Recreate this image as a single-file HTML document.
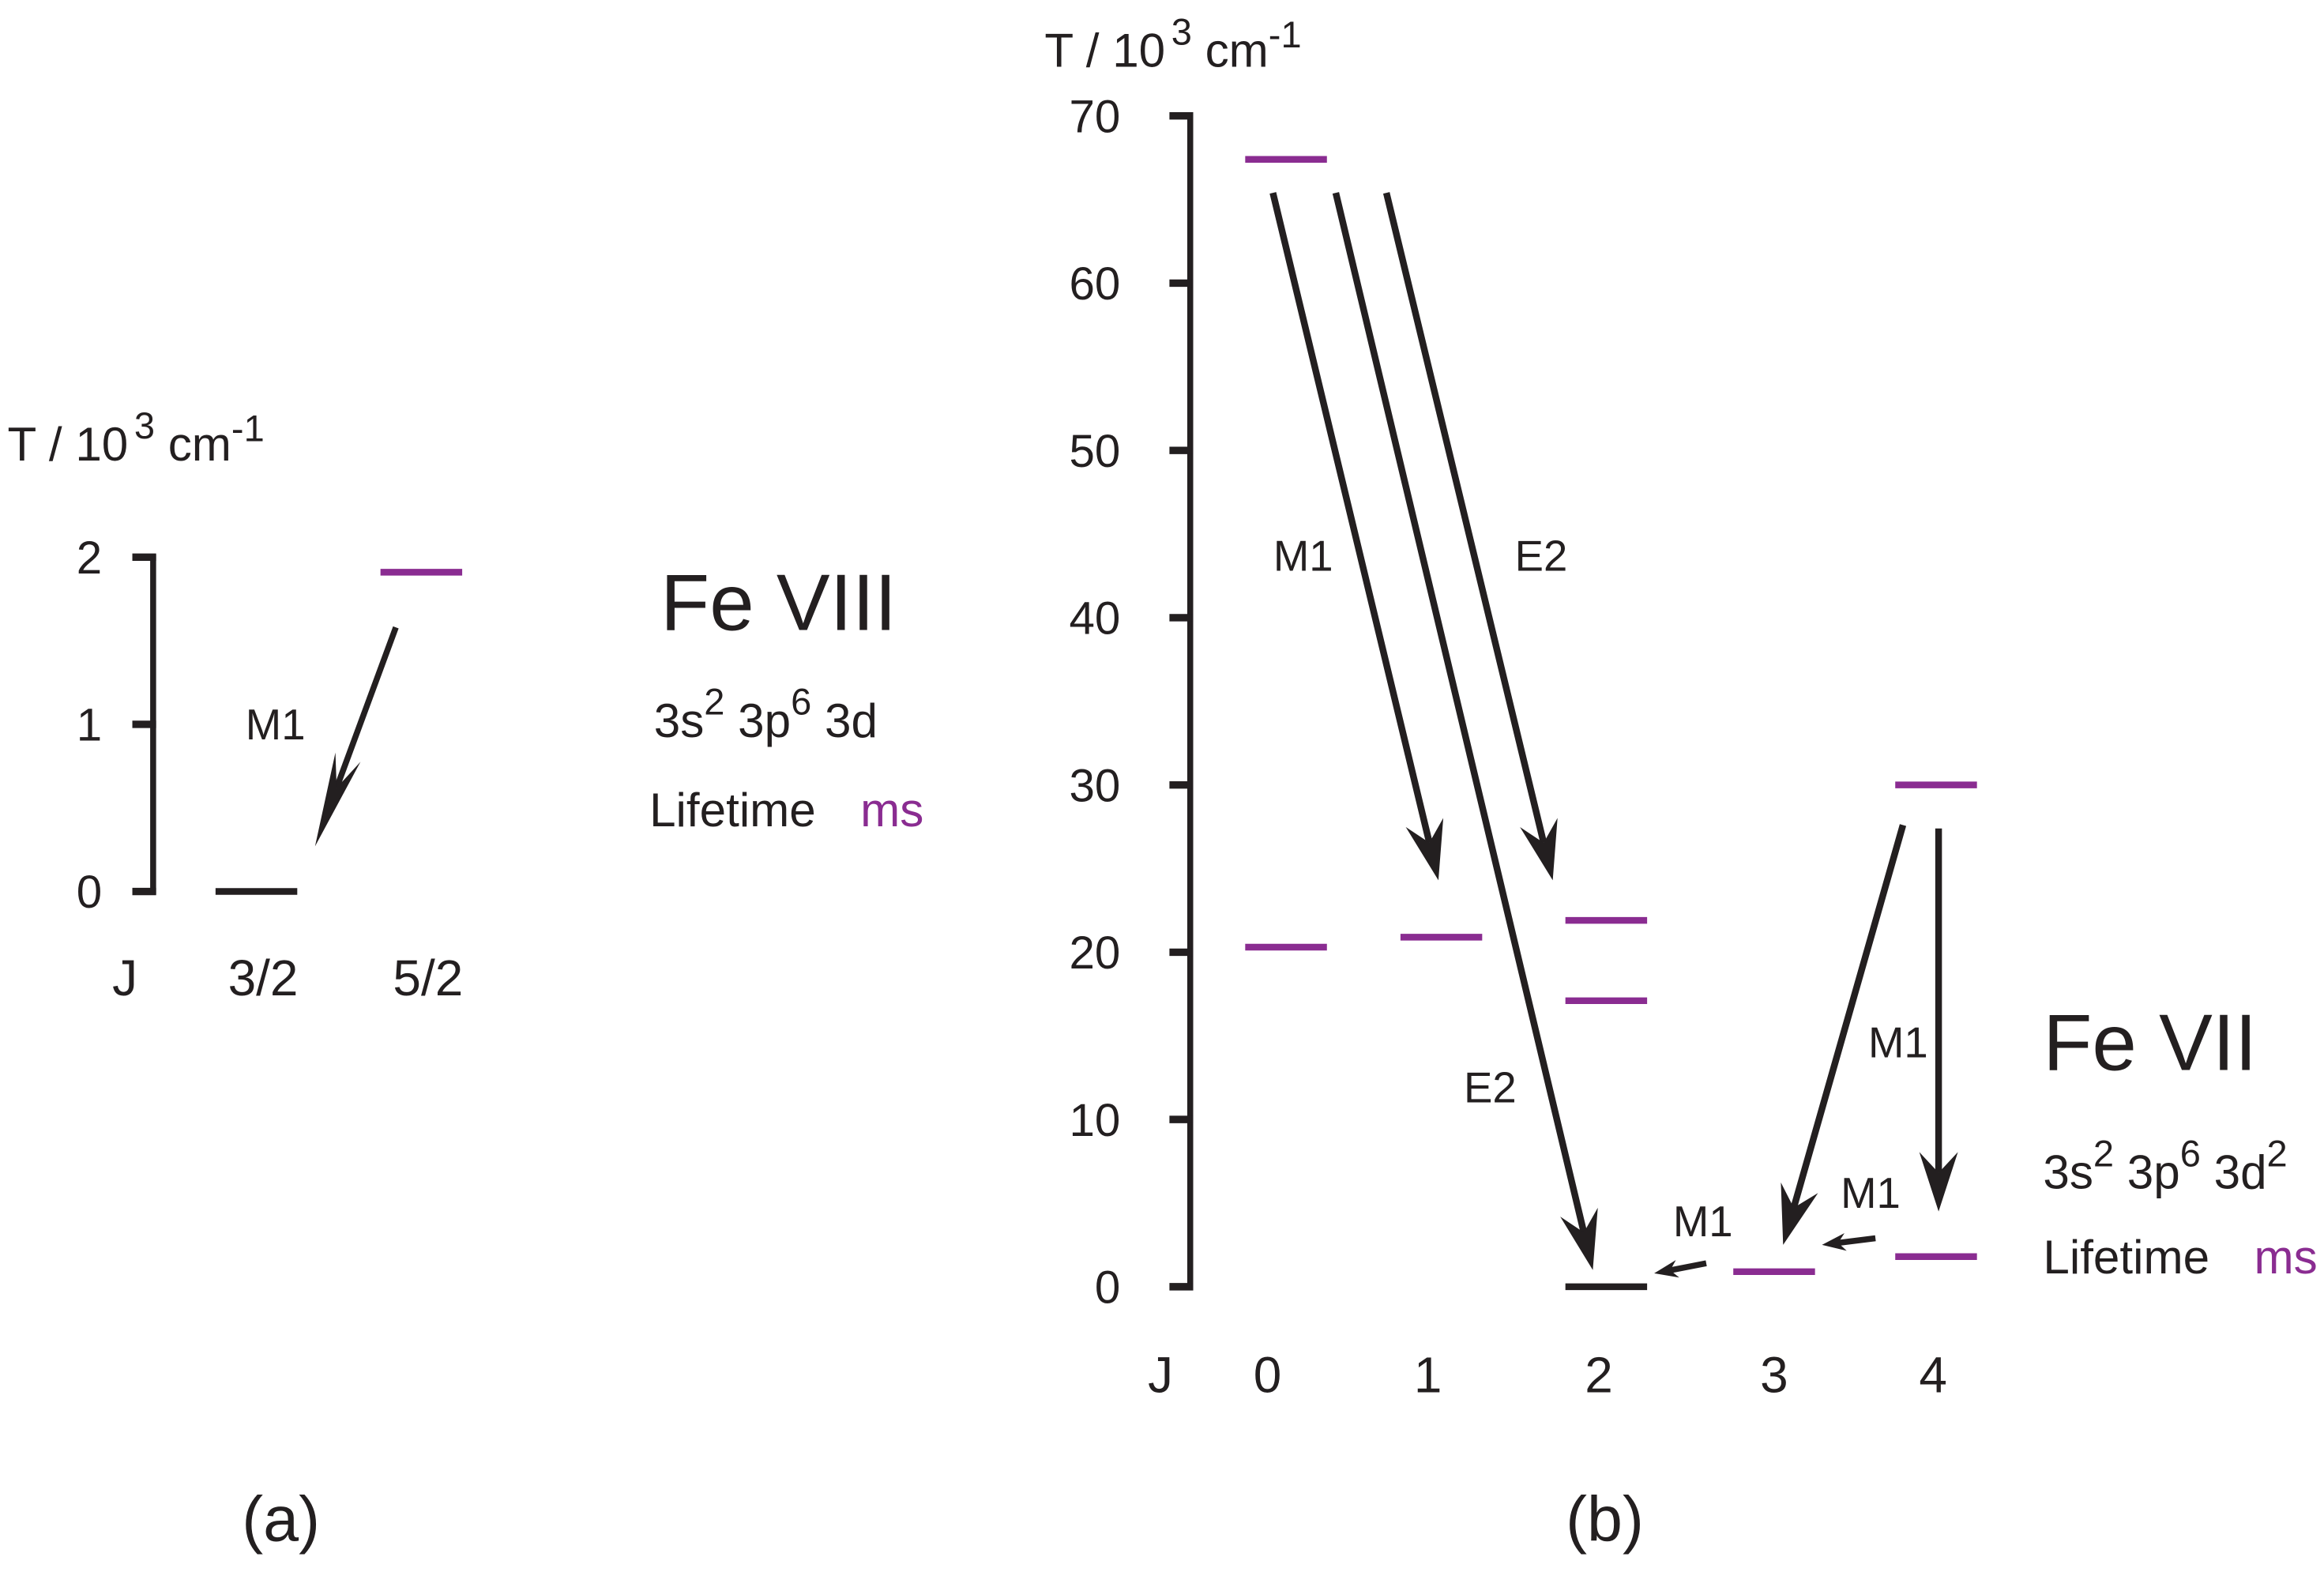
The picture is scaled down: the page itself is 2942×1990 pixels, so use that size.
<!DOCTYPE html>
<html><head><meta charset="utf-8"><style>
html,body{margin:0;padding:0;background:#fff}
svg{display:block}
text{font-family:"Liberation Sans",sans-serif}
</style></head><body>
<svg id="chart" width="2942" height="1990" viewBox="0 0 1564 1058" xmlns="http://www.w3.org/2000/svg">
<g id="pa"></g>
<g id="pb"></g>
</svg>
<script>
// Panel A data (Fe VIII)
const aTicks = [0, 1, 2];
const aJLabels = ["3/2", "5/2"];
const aLevels = [[0, 0, "black"], [1, 1.91, "purple"]]; // [J index, energy, colour]
const aArrows = [[0.85, 1.58, 0.36, 0.27]]; // [j1, e1, j2, e2]
const aArrowLabels = [["M1", 0.12, 1.0]];
// Panel B data (Fe VII)
const bTicks = [0, 10, 20, 30, 40, 50, 60, 70];
const bJLabels = ["0", "1", "2", "3", "4"];
const bLevels = [[0, 67.4, "purple"], [0, 20.3, "purple"], [1, 20.9, "purple"], [2, 21.9, "purple"], [2, 17.1, "purple"], [2, 0, "black"], [3, 0.9, "purple"], [4, 30.0, "purple"], [4, 1.8, "purple"]];
const bArrows = [[-0.08, 65.4, 0.986, 24.3], [0.325, 65.4, 1.923, 1.0], [0.651, 65.4, 1.68, 24.3], [3.80, 27.6, 3.06, 2.5], [4.02, 27.4, 4.02, 4.5], [2.60, 1.4, 2.29, 0.8], [3.63, 2.9, 3.30, 2.5]];
const bArrowLabels = [["M1", 0.115, 43.7], ["E2", 1.61, 43.7], ["E2", 1.30, 11.9], ["M1", 3.77, 14.6], ["M1", 3.60, 5.6], ["M1", 2.58, 3.9]];

const NS = "http://www.w3.org/2000/svg";
const PURPLE = "#8a2c91", BLACK = "#231f20";
function mk(parent, tag, attrs, txt) {
  const e = document.createElementNS(NS, tag);
  for (const k in attrs) e.setAttribute(k, attrs[k]);
  if (txt !== undefined) e.textContent = txt;
  parent.appendChild(e);
  return e;
}
function arrow(g, x1, y1, x2, y2, head) {
  const dx = x2 - x1, dy = y2 - y1, L = Math.hypot(dx, dy), ux = dx / L, uy = dy / L, px = -uy, py = ux;
  const hl = head[0], hw = head[1], nl = head[2];
  const l = mk(g, "line", {x1: x1, y1: y1, x2: x2 - ux * nl, y2: y2 - uy * nl, stroke: BLACK, "stroke-width": head[3]});
  
  
  const bx = x2 - ux * hl, by = y2 - uy * hl;
  const p = mk(g, "polygon", {points: [x2, y2, bx + px * hw, by + py * hw, x2 - ux * nl, y2 - uy * nl, bx - px * hw, by - py * hw].join(","), fill: BLACK});
  
  
}
function supText(g, x, y, size, parts) {
  const t = mk(g, "text", {x: x, y: y, "font-size": size, fill: BLACK});
  parts.forEach(pt => {
    const s = mk(t, "tspan", {}, pt[0]);
    if (pt[1]) s.setAttribute("dy", pt[1]);
    if (pt[2]) s.setAttribute("font-size", pt[2]);
    if (pt[3]) s.setAttribute("dx", pt[3]);
  });
  return t;
}
function titleParts() {
  return [["T / 10"], ["3", -15, 25, 4], [" cm", 15, 32], ["-1", -13, 25]];
}
// Panel A
(function () {
  const g = document.getElementById("pa");
  const X0 = 103, Y0 = 600, YS = 112.5, xJ = j => 172 + 111 * j, yE = e => Y0 - e * YS;
  const ax = mk(g, "line", {x1: X0, y1: yE(2) - 2, x2: X0, y2: Y0 + 2, stroke: BLACK, "stroke-width": 4});
  
  
  aTicks.forEach(v => {
    const t = mk(g, "line", {x1: 89, y1: yE(v), x2: X0 + 2, y2: yE(v), stroke: BLACK, "stroke-width": 5});
    
    
    const l = mk(g, "text", {x: 60, y: yE(v) + 11, "font-size": 31, "text-anchor": "middle", fill: BLACK}, String(v));
    
    
  });
  const ti = supText(g, 5, 310, 32, titleParts());
  
  
  const jl = mk(g, "text", {x: 84, y: 670, "font-size": 34, "text-anchor": "middle", fill: BLACK}, "J");
  
  
  aJLabels.forEach((s, i) => {
    const t = mk(g, "text", {x: xJ(i) + 5, y: 670, "font-size": 34, "text-anchor": "middle", fill: BLACK}, s);
    
    
  });
  aLevels.forEach(L => {
    const l = mk(g, "line", {x1: xJ(L[0]) - 27, y1: yE(L[1]), x2: xJ(L[0]) + 28, y2: yE(L[1]), stroke: L[2] === "black" ? BLACK : PURPLE, "stroke-width": 4.5});
    
    
  });
  aArrows.forEach(A => arrow(g, xJ(A[0]), yE(A[1]), xJ(A[2]), yE(A[3]), [64, 9, 42, 4]));
  aArrowLabels.forEach(A => {
    const t = mk(g, "text", {x: xJ(A[1]), y: yE(A[2]) + 10, "font-size": 29, "text-anchor": "middle", fill: BLACK}, A[0]);
    
    
  });
  const f = mk(g, "text", {x: 524, y: 424, "font-size": 54, "text-anchor": "middle", fill: BLACK}, "Fe VIII");
  
  
  const c = supText(g, 440, 496, 32, [["3s"], ["2", -15, 25], [" 3p", 15, 32], ["6", -15, 25], [" 3d", 15, 32]]);
  
  
  const lt = mk(g, "text", {x: 437, y: 556, "font-size": 32, fill: BLACK}, "Lifetime");
  
  
  const ms = mk(g, "text", {x: 579, y: 556, "font-size": 32, fill: PURPLE}, "ms");
  
  
  const pl = mk(g, "text", {x: 189, y: 1037, "font-size": 43, "text-anchor": "middle", fill: BLACK}, "(a)");
  
  
})();
// Panel B
(function () {
  const g = document.getElementById("pb");
  const X0 = 801, Y0 = 866, YS = (866 - 78) / 70, yE = e => Y0 - e * YS;
  const colX = [865, 969.5, 1080.5, 1193.5, 1302.5];
  const xJ = j => {
    let i = Math.max(0, Math.min(colX.length - 2, Math.floor(j)));
    return colX[i] + (j - i) * (colX[i + 1] - colX[i]);
  };
  const labelX = [853, 961, 1076, 1194, 1301];
  const ax = mk(g, "line", {x1: X0, y1: yE(70) - 2, x2: X0, y2: Y0 + 2, stroke: BLACK, "stroke-width": 4});
  
  
  bTicks.forEach(v => {
    const t = mk(g, "line", {x1: 787, y1: yE(v), x2: X0 + 2, y2: yE(v), stroke: BLACK, "stroke-width": 5});
    
    
    const l = mk(g, "text", {x: 754, y: yE(v) + 11, "font-size": 31, "text-anchor": "end", fill: BLACK}, String(v));
    
    
  });
  const ti = supText(g, 703, 45, 32, titleParts());
  
  
  const jl = mk(g, "text", {x: 781, y: 937, "font-size": 34, "text-anchor": "middle", fill: BLACK}, "J");
  
  
  bJLabels.forEach((s, i) => {
    const t = mk(g, "text", {x: labelX[i], y: 937, "font-size": 34, "text-anchor": "middle", fill: BLACK}, s);
    
    
  });
  bLevels.forEach(L => {
    const l = mk(g, "line", {x1: xJ(L[0]) - 27, y1: yE(L[1]), x2: xJ(L[0]) + 28, y2: yE(L[1]), stroke: L[2] === "black" ? BLACK : PURPLE, "stroke-width": 4.5});
    
    
  });
  bArrows.forEach((A, i) => {
    const small = i >= 5;
    arrow(g, xJ(A[0]), yE(A[1]), xJ(A[2]), yE(A[3]), small ? [16, 6, 11, 4] : [40, 13, 26, 4.5]);
  });
  bArrowLabels.forEach(A => {
    const t = mk(g, "text", {x: xJ(A[1]), y: yE(A[2]) + 10, "font-size": 29, "text-anchor": "middle", fill: BLACK}, A[0]);
    
    
  });
  const f = mk(g, "text", {x: 1447, y: 720, "font-size": 54, "text-anchor": "middle", fill: BLACK}, "Fe VII");
  
  
  const c = supText(g, 1375, 800, 32, [["3s"], ["2", -15, 25], [" 3p", 15, 32], ["6", -15, 25], [" 3d", 15, 32], ["2", -15, 25]]);
  
  
  const lt = mk(g, "text", {x: 1375, y: 857, "font-size": 32, fill: BLACK}, "Lifetime");
  
  
  const ms = mk(g, "text", {x: 1517, y: 857, "font-size": 32, fill: PURPLE}, "ms");
  
  
  const pl = mk(g, "text", {x: 1080, y: 1037, "font-size": 43, "text-anchor": "middle", fill: BLACK}, "(b)");
  
  
})();
</script>
</body></html>
